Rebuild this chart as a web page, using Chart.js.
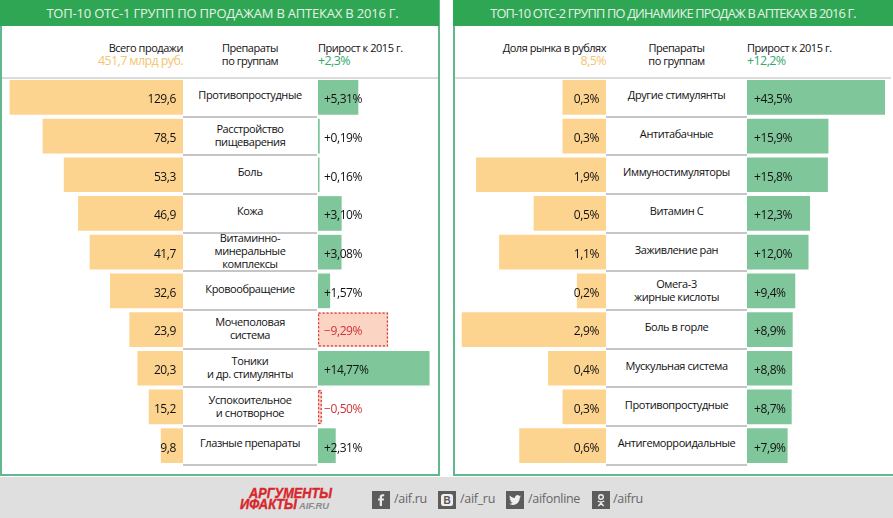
<!DOCTYPE html>
<html>
<head>
<meta charset="utf-8">
<title>Топ-10 ОТС групп</title>
<script src="https://cdn.jsdelivr.net/npm/chart.js@4/dist/chart.umd.min.js"></script>
<style>
html,body{margin:0;padding:0;background:#fff;}
#page{position:relative;width:893px;height:518px;overflow:hidden;background:#fff;font-family:"Open Sans",sans-serif;color:#111;}
#page div,#page span{position:absolute;white-space:pre-line;}
canvas{position:absolute;}
.panel{top:0;height:474px;border:2px solid #5fb98d;border-top:0;box-sizing:content-box;}
.head{top:0;height:26px;background:#2fa653;color:#e4f3e6;line-height:26px;text-align:center;white-space:nowrap;}
.rule{top:77px;height:2px;background:#dcdcdc;}
.cap{font-size:11px;line-height:13px;letter-spacing:-0.47px;}
.cap span{position:static !important;font-size:12.5px;letter-spacing:-0.6px;}
.sep{height:2px;background:#c6c6c6;}
.lab{font-size:11px;line-height:13px;text-align:center;letter-spacing:-0.42px;}
#foot{left:0;top:477px;width:893px;height:41px;background:#dfdfdf;}
.ico{top:14px;width:18px;height:18px;background:#5c5c5c;}
.ico svg{display:block;}
.soc{top:13px;font-size:12.5px;line-height:18px;color:#666;letter-spacing:-0.3px;}
</style>
</head>
<body>
<div id="page">
  <div class="panel" style="left:0;width:436px"></div>
  <div class="panel" style="left:453px;width:438px"></div>
  <div class="head" style="left:0;width:439px;font-size:13px;letter-spacing:-0.2px;text-indent:6px">ТОП-10 ОТС-1 ГРУПП ПО ПРОДАЖАМ В АПТЕКАХ В 2016 Г.</div>
  <div class="head" style="left:453px;width:440px;font-size:12.8px;letter-spacing:-0.82px">ТОП-10 ОТС-2 ГРУПП ПО ДИНАМИКЕ ПРОДАЖ В АПТЕКАХ В 2016 Г.</div>
  <div class="rule" style="left:2px;width:436px"></div>
  <div class="rule" style="left:455px;width:436px"></div>

  <div class="cap" style="left:0;width:183px;top:41px;text-align:right">Всего продажи
<span style="color:#f3c572">451,7 млрд руб.</span></div>
  <div class="cap" style="left:183px;width:134px;top:41px;text-align:center">Препараты
по группам</div>
  <div class="cap" style="left:318px;top:41px">Прирост к 2015 г.
<span style="color:#35a86b">+2,3%</span></div>

  <div class="cap" style="left:453px;width:153px;top:41px;text-align:right">Доля рынка в рублях
<span style="color:#f3c572">8,5%</span></div>
  <div class="cap" style="left:606px;width:141px;top:41px;text-align:center">Препараты
по группам</div>
  <div class="cap" style="left:747px;top:41px">Прирост к 2015 г.
<span style="color:#35a86b">+12,2%</span></div>

  <canvas id="sales_chart" style="left:0;top:78px" width="183" height="387"></canvas>
  <canvas id="growth1_chart" style="left:318px;top:78px" width="120" height="387"></canvas>
  <canvas id="share_chart" style="left:455px;top:78px" width="151" height="387"></canvas>
  <canvas id="growth2_chart" style="left:747px;top:78px" width="144" height="387"></canvas>

  <div id="foot">
    <svg style="position:absolute;left:238px;top:8px" width="98" height="26" viewBox="0 0 98 26">
      <text x="11" y="13" font-family="Liberation Sans" font-size="14.5" font-weight="700" font-style="italic" fill="#d8262c" stroke="#d8262c" stroke-width="0.4" textLength="83" lengthAdjust="spacingAndGlyphs">АРГУМЕНТЫ</text>
      <text x="2" y="24" font-family="Liberation Sans" font-size="14.5" font-weight="700" font-style="italic" fill="#d8262c" stroke="#d8262c" stroke-width="0.4" textLength="57" lengthAdjust="spacingAndGlyphs">ИФАКТЫ</text>
      <text x="61" y="24" font-family="Liberation Sans" font-size="9" font-weight="700" font-style="italic" fill="#8a8a8a" textLength="30" lengthAdjust="spacingAndGlyphs">AIF.RU</text>
    </svg>
    <div class="ico" style="left:372px"><svg width="18" height="18" viewBox="0 0 18 18"><path d="M10 15V9.6h1.8l.3-2.1H10V6.2c0-.6.2-1 1-1h1.2V3.3c-.2 0-.9-.1-1.7-.1-1.7 0-2.8 1-2.8 2.8v1.5H6v2.1h1.7V15z" fill="#e8e8e8"/></svg></div><div class="soc" style="left:394px">/aif.ru</div>
    <div class="ico" style="left:438px"><svg width="18" height="18" viewBox="0 0 18 18"><rect x="3" y="3" width="12" height="12" rx="2.5" fill="#efefef"/><text x="9" y="12.6" text-anchor="middle" font-family="Liberation Sans" font-size="10" font-weight="700" fill="#555">В</text></svg></div><div class="soc" style="left:460px">/aif_ru</div>
    <div class="ico" style="left:506px"><svg width="18" height="18" viewBox="0 0 18 18"><path d="M15 5.2c-.4.2-.9.3-1.4.4.5-.3.9-.8 1.1-1.4-.5.3-1 .5-1.6.6a2.5 2.5 0 0 0-4.2 2.3c-2-.1-3.8-1.1-5-2.6-.7 1.2-.3 2.6.8 3.3-.4 0-.8-.1-1.1-.3 0 1.200.9 2.300 2 2.500-.4.100-.8.100-1.100 0 .3 1 1.200 1.700 2.300 1.700-1.100.9-2.500 1.300-3.800 1.100 1.100.7 2.400 1.100 3.800 1.100 4.600 0 7.200-3.900 7-7.300.5-.4.900-.8 1.200-1.400z" fill="#efefef"/></svg></div><div class="soc" style="left:528px">/aifonline</div>
    <div class="ico" style="left:592px"><svg width="18" height="18" viewBox="0 0 18 18"><circle cx="9" cy="6" r="2.300" fill="none" stroke="#efefef" stroke-width="1.400"/><path d="M5.800 10c2 1.300 4.400 1.300 6.400 0M9 11v1.200M9 12.200 6.300 15M9 12.200 11.700 15" fill="none" stroke="#efefef" stroke-width="1.400"/></svg></div><div class="soc" style="left:613px">/aifru</div>
  </div>
</div>

<script>
/* DATA */
let left_groups=["Противопростудные","Расстройство\nпищеварения","Боль","Кожа","Витаминно-\nминеральные\nкомплексы","Кровообращение","Мочеполовая\nсистема","Тоники\nи др. стимулянты","Успокоительное\nи снотворное","Глазные препараты"];
let sales_labels=["129,6","78,5","53,3","46,9","41,7","32,6","23,9","20,3","15,2","9,8"];
// first two bars are cut short in the original, lengths as drawn there
let sales_bars=[77.6,62.8,53.3,46.9,41.7,32.6,23.9,20.3,15.2,9.8];
let growth1_labels=["+5,31%","+0,19%","+0,16%","+3,10%","+3,08%","+1,57%","−9,29%","+14,77%","−0,50%","+2,31%"];
let growth1_values=[5.31,0.19,0.16,3.10,3.08,1.57,-9.29,14.77,-0.50,2.31];

let right_groups=["Другие стимулянты","Антитабачные","Иммуностимуляторы","Витамин С","Заживление ран","Омега-3\nжирные кислоты","Боль в горле","Мускульная система","Противопростудные","Антигеморроидальные"];
let share_labels=["0,3%","0,3%","1,9%","0,5%","1,1%","0,2%","2,9%","0,4%","0,3%","0,6%"];
// share bars are not to scale in the original either, lengths as drawn there
let share_bars=[0.3,0.3,0.9,0.5,0.74,0.2,1.0,0.4,0.3,0.6];
let growth2_labels=["+43,5%","+15,9%","+15,8%","+12,3%","+12,0%","+9,4%","+8,9%","+8,8%","+8,7%","+7,9%"];
let growth2_bars=[27,15.9,15.8,12.3,12.0,9.4,8.9,8.8,8.7,7.9];

/* COLORS */
const ORANGE="#fdd48f";
const GREEN="#80c69b";
const PINK="#fcd4c4";
const RED="#cf3238";

/* BAR VALUE TEXT AND DASHED BOX FOR NEGATIVE BARS */
const bar_text_plugin={
  id:"bar_text",
  afterDatasetsDraw(chart,args,opts){
    let ctx=chart.ctx;
    let meta=chart.getDatasetMeta(0);
    ctx.save();
    meta.data.forEach(function(bar,i){
      let negative=opts.labels[i].charAt(0)=="−";
      if(negative){
        let x1=Math.min(bar.x,bar.base),x2=Math.max(bar.x,bar.base);
        ctx.strokeStyle=RED;
        ctx.lineWidth=1.2;
        ctx.setLineDash([2,2]);
        ctx.strokeRect(x1+0.6,bar.y-bar.height/2+0.6,x2-x1-1.2,bar.height-1.2);
        ctx.setLineDash([]);
      }
      ctx.font="12px 'Open Sans'";
      ctx.letterSpacing="-0.4px";
      ctx.fillStyle=negative?RED:"#111";
      ctx.textBaseline="middle";
      ctx.textAlign=opts.align;
      ctx.fillText(opts.labels[i],bar.base+opts.gap,bar.y+2.5);
    });
    ctx.restore();
  }
};

function make_bar_chart(canvas_id,groups,bars,labels,color,reverse,axis_max,gap){
  return new Chart(document.getElementById(canvas_id).getContext("2d"),{
    type:"bar",
    data:{
      labels:groups,
      datasets:[{
        data:bars.map(Math.abs),
        backgroundColor:bars.map(function(v){return v<0?PINK:color;}),
        borderWidth:0,
        barThickness:34
      }]
    },
    options:{
      indexAxis:"y",
      responsive:false,
      animation:false,
      layout:{padding:0},
      scales:{
        x:{display:false,min:0,max:axis_max,reverse:reverse},
        y:{display:false}
      },
      plugins:{
        legend:{display:false},
        tooltip:{enabled:false},
        bar_text:{labels:labels,align:reverse?"right":"left",gap:gap}
      }
    },
    plugins:[bar_text_plugin]
  });
}

// axis_max = canvas width / px per unit
make_bar_chart("sales_chart",left_groups,sales_bars,sales_labels,ORANGE,true,183/2.23,-7);
make_bar_chart("growth1_chart",left_groups,growth1_values,growth1_labels,GREEN,false,120/7.53,6);
make_bar_chart("share_chart",right_groups,share_bars,share_labels,ORANGE,true,151/144,-7);
make_bar_chart("growth2_chart",right_groups,growth2_bars,growth2_labels,GREEN,false,144/5.1,7);

/* GROUP NAMES AND SEPARATORS IN THE MIDDLE COLUMNS */
let page_DOM=document.getElementById("page");
function add_middle_column(groups,x,width){
  groups.forEach(function(name,i){
    let row_center=97+i*38.7;
    let lab=document.createElement("div");
    lab.className="lab";
    lab.textContent=name;
    lab.style.left=x+"px";
    lab.style.width=width+"px";
    page_DOM.appendChild(lab);
    let shift=name.indexOf("\n")<0?-2.5:-1;
    lab.style.top=(row_center+shift-lab.offsetHeight/2)+"px";
    let sep=document.createElement("div");
    sep.className="sep";
    sep.style.left=x+"px";
    sep.style.width=width+"px";
    sep.style.top=(row_center+18.5)+"px";
    page_DOM.appendChild(sep);
  });
}
add_middle_column(left_groups,183,134);
add_middle_column(right_groups,606,141);
</script>
</body>
</html>
